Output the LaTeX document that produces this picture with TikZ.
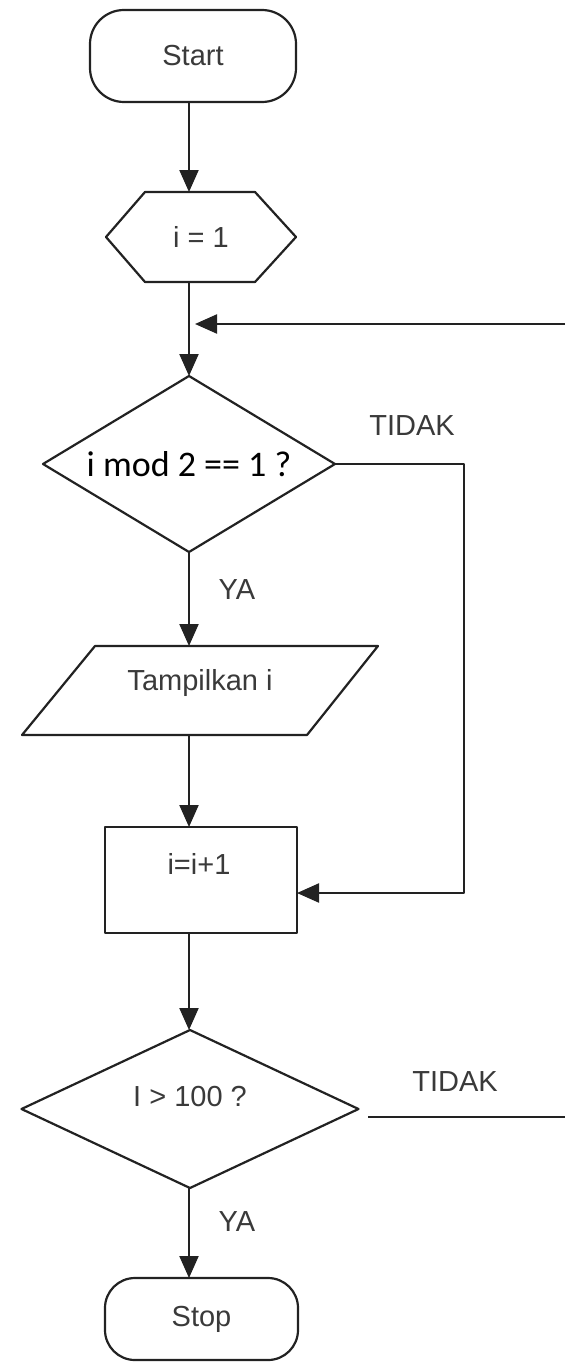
\documentclass[tikz,border=0pt]{standalone}
\usepackage{fontspec}
\setmainfont{Liberation Sans}
\newfontfamily\calib{Carlito}
\usetikzlibrary{arrows.meta}
\definecolor{lncol}{HTML}{222222}
\definecolor{txcol}{HTML}{3A3A3A}
\begin{document}
\begin{tikzpicture}[x=1pt,y=-1pt,
  ln/.style={draw=lncol,line width=2.2pt,line join=round},
  arr/.style={ln,-{Triangle[length=22pt,width=19pt]}},
  shp/.style={draw=none,inner sep=0pt,outer sep=0pt,text=txcol,font=\fontsize{29}{34}\selectfont},
  txt/.style={text=txcol,font=\fontsize{29}{34}\selectfont,inner sep=0pt},
  term/.style={ln,inner sep=0pt,outer sep=0pt,text=txcol,font=\fontsize{29}{34}\selectfont}]
\fill[white] (0,0) rectangle (565,1362);
\useasboundingbox (0,0) rectangle (565,1362);
\coordinate (col) at (189,0);

% nodes
\node[term,rounded corners=34pt,minimum width=206pt,minimum height=92pt] (start) at (193,56) {Start};
\node[shp,minimum width=190pt,minimum height=90pt] (hx) at (201,237) {i = 1};
\node[shp,minimum width=292pt,minimum height=176pt,text=black,font=\calib\fontsize{36}{42}\selectfont] (d1) at (189,464) {i mod 2 == 1 ?};
\node[shp,minimum width=356pt,minimum height=89pt] (par) at (200,690.5) {};
\node[txt] (partxt) at (200,683) {Tampilkan i};
\node[term,minimum width=192pt,minimum height=106pt] (inc) at (201,880) {};
\node[txt] (inctxt) at (199,864) {i=i+1};
\node[shp,minimum width=337pt,minimum height=158pt] (d2) at (190,1109) {};
\node[txt] (d2txt) at (190,1097) {I > 100 ?};
\node[term,rounded corners=30pt,minimum width=193pt,minimum height=82pt] (stop) at (201.5,1319) {Stop};

\node[txt] (tidak1) at (412,426) {TIDAK};
\node[txt] (ya1) at (237,590) {YA};
\node[txt] (tidak2) at (455,1082) {TIDAK};
\node[txt] (ya2) at (237,1222) {YA};

% shapes drawn around named nodes
\draw[ln] (hx.west) -- ([xshift=39pt]hx.north west) -- ([xshift=-41pt]hx.north east) -- (hx.east)
  -- ([xshift=-41pt]hx.south east) -- ([xshift=39pt]hx.south west) -- cycle;
\draw[ln] (d1.north) -- (d1.east) -- (d1.south) -- (d1.west) -- cycle;
\draw[ln] (par.south west) -- ([xshift=73pt]par.north west) -- (par.north east)
  -- ([xshift=-71pt]par.south east) -- cycle;
\draw[ln] (d2.north) -- (d2.east) -- (d2.south) -- (d2.west) -- cycle;

% connectors
\coordinate (fbin) at (565,324);
\coordinate (fbtip) at (195,324);
\coordinate (r1) at (464,464);
\coordinate (r2) at (464,893);
\coordinate (t2a) at (368,1117);
\coordinate (t2b) at (565,1117);

\draw[arr] (start.south -| col) -- (hx.north -| col);
\draw[arr] (hx.south -| col) -- (d1.north);
\draw[arr] (fbin) -- (fbtip);
\draw[arr] (d1.south) -- (par.north -| col);
\draw[arr] (par.south -| col) -- (inc.north -| col);
\draw[arr] (d1.east) -- (r1) -- (r2) -- (r2 -| inc.east);
\draw[arr] (inc.south -| col) -- (d2.north -| col);
\draw[arr] (d2.south -| col) -- (stop.north -| col);
\draw[ln] (t2a) -- (t2b);
\end{tikzpicture}
\end{document}
